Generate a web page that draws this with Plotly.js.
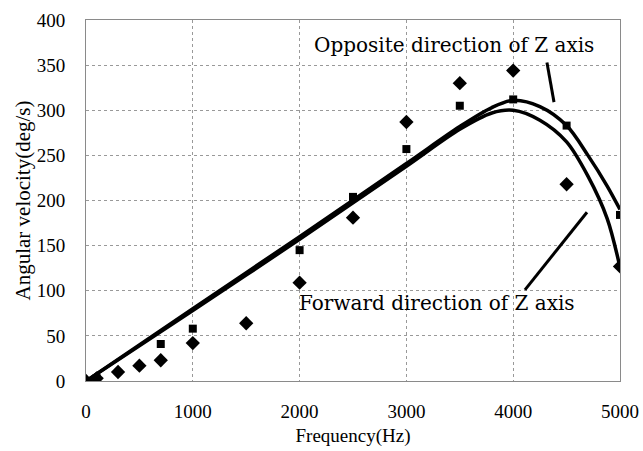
<!DOCTYPE html>
<html>
<head>
<meta charset="utf-8">
<script src="https://cdn.plot.ly/plotly-3.0.1.min.js"></script>
<style>html,body{margin:0;padding:0;background:#fff;}#chart{width:643px;height:451px;}</style>
</head>
<body>
<div id="chart"></div>
<script>
// Measured points: Forward direction of Z axis (diamonds)
const forwardFreq = [0, 100, 300, 500, 700, 1000, 1500, 2000, 2500, 3000, 3500, 4000, 4500, 5000];
const forwardVel  = [0, 3, 10, 17, 23, 42, 64, 109, 181, 287, 330, 344, 218, 127];
// Measured points: Opposite direction of Z axis (squares)
const oppositeFreq = [0, 100, 700, 1000, 2000, 2500, 3000, 3500, 4000, 4500, 5000];
const oppositeVel  = [0, 3, 41, 58, 145, 204, 257, 305, 312, 283, 184];
// Trend curves
const oppCurveFreq = [0, 1000, 2000, 3000, 3500, 3800, 4000, 4250, 4500, 4700, 4880, 5000];
const oppCurveVel  = [0, 80, 160, 241, 282, 303, 311, 304, 283, 250, 216, 190];
const fwdCurveFreq = [0, 1000, 2000, 3000, 3500, 3800, 4000, 4250, 4500, 4700, 4880, 5000];
const fwdCurveVel  = [0, 78, 157, 238, 279, 297, 300, 289, 265, 227, 180, 126];
// Axis ticks
const xTicks = [0, 1000, 2000, 3000, 4000, 5000];
const yTicks = [0, 50, 100, 150, 200, 250, 300, 350, 400];
// Labels
const xTitle = 'Frequency(Hz)';
const yTitle = 'Angular velocity(deg/s)';
const oppLabel = 'Opposite direction of Z axis';
const fwdLabel = 'Forward direction of Z axis';

const serif = 'Liberation Serif, Times New Roman, serif';

const traces = [
  {x: oppCurveFreq, y: oppCurveVel, mode: 'lines', line: {color: '#000', width: 3.5, shape: 'spline', smoothing: 0.9}, hoverinfo: 'skip'},
  {x: fwdCurveFreq, y: fwdCurveVel, mode: 'lines', line: {color: '#000', width: 3.5, shape: 'spline', smoothing: 0.9}, hoverinfo: 'skip'},
  {x: forwardFreq, y: forwardVel, mode: 'markers', marker: {symbol: 'diamond', size: 11, color: '#000'}},
  {x: oppositeFreq, y: oppositeVel, mode: 'markers', marker: {symbol: 'square', size: 8, color: '#000'}}
];

const layout = {
  width: 643, height: 451,
  margin: {l: 86, r: 23, t: 20, b: 70},
  paper_bgcolor: '#fff', plot_bgcolor: '#fff',
  showlegend: false,
  font: {family: serif, color: '#000', size: 19},
  xaxis: {
    range: [0, 5000], tickvals: xTicks, ticktext: xTicks.map(String),
    showgrid: true, gridcolor: '#999', griddash: 'dot', gridwidth: 1,
    zeroline: false, showline: true, linecolor: '#8a8a8a', linewidth: 1, mirror: true,
    ticks: '', ticklabelstandoff: 13,
    tickfont: {family: serif, size: 19, color: '#000'},
    title: {text: xTitle, font: {family: serif, size: 19, color: '#000'}, standoff: 7}
  },
  yaxis: {
    range: [0, 400], tickvals: yTicks, ticktext: yTicks.map(String),
    showgrid: true, gridcolor: '#999', griddash: 'dot', gridwidth: 1,
    zeroline: false, showline: true, linecolor: '#8a8a8a', linewidth: 1, mirror: true,
    ticks: '', ticklabelstandoff: 16,
    tickfont: {family: serif, size: 19, color: '#000'},
    title: {text: yTitle, font: {family: serif, size: 21, color: '#000'}, standoff: 0}
  },
  annotations: [
    {x: 3441, y: 372, xref: 'x', yref: 'y', text: oppLabel, showarrow: false,
     font: {family: 'DejaVu Serif, serif', size: 20, color: '#000'}},
    {x: 3291, y: 86, xref: 'x', yref: 'y', text: fwdLabel, showarrow: false,
     font: {family: 'DejaVu Serif, serif', size: 20, color: '#000'}}
  ],
  shapes: [
    {type: 'line', xref: 'x', yref: 'y', x0: 4316, y0: 353, x1: 4382, y1: 309, line: {color: '#000', width: 3}},
    {type: 'line', xref: 'x', yref: 'y', x0: 4691, y0: 187, x1: 4110, y1: 101, line: {color: '#000', width: 3}}
  ]
};

Plotly.newPlot('chart', traces, layout, {staticPlot: true, displayModeBar: false});
</script>
</body>
</html>
